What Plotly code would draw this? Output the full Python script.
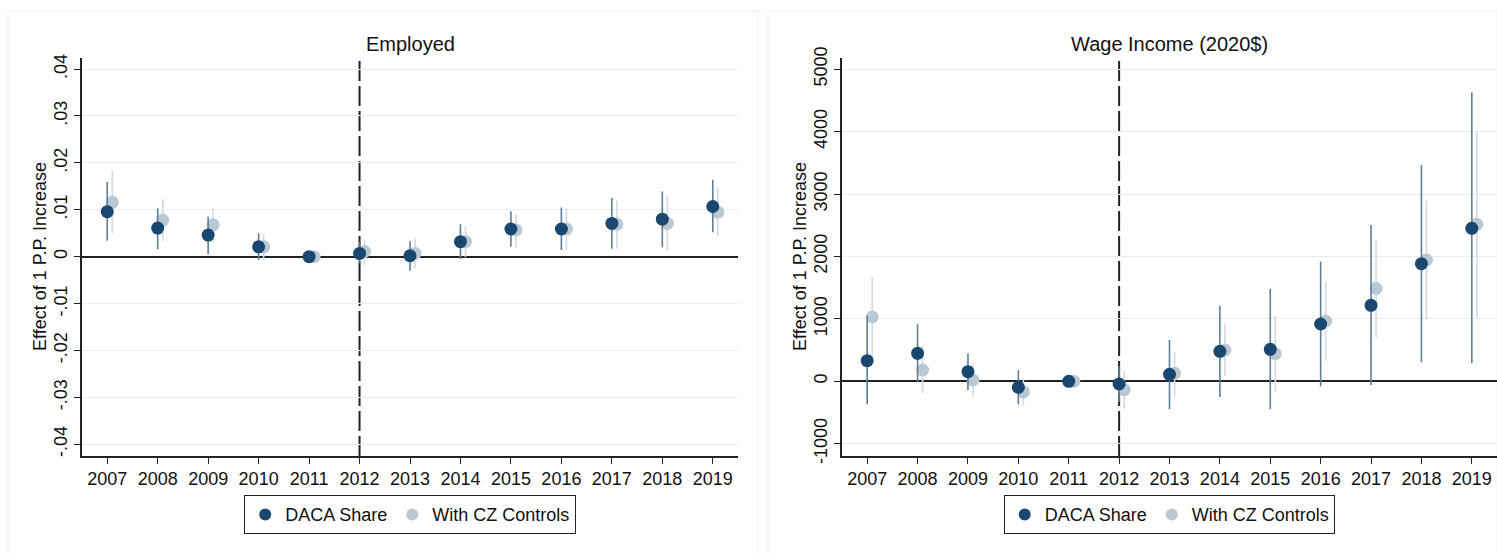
import plotly.graph_objects as go

# ---------------- data ----------------
years = [2007, 2008, 2009, 2010, 2011, 2012, 2013, 2014, 2015, 2016, 2017, 2018, 2019]
year_labels = ["2007", "2008", "2009", "2010", "2011", "2012", "2013", "2014",
               "2015", "2016", "2017", "2018", "2019"]

# Employed: point estimates and 95% CI bounds
emp_daca = [0.0096, 0.0061, 0.0046, 0.0021, 0.0, 0.0007, 0.0002, 0.0032, 0.0059, 0.0059, 0.0071, 0.0080, 0.0107]
emp_daca_hi = [0.0159, 0.0103, 0.0085, 0.0050, 0.0, 0.0032, 0.0033, 0.0069, 0.0097, 0.0105, 0.0125, 0.0139, 0.0164]
emp_daca_lo = [0.0034, 0.0016, 0.0005, -0.0007, 0.0, -0.0014, -0.0030, -0.0005, 0.0021, 0.0014, 0.0017, 0.0020, 0.0052]
emp_cz = [0.0116, 0.0078, 0.0068, 0.0021, 0.0, 0.0011, 0.0007, 0.0032, 0.0057, 0.0059, 0.0069, 0.0071, 0.0095]
emp_cz_hi = [0.0183, 0.0123, 0.0103, 0.0048, 0.0, 0.0036, 0.0038, 0.0064, 0.0091, 0.0102, 0.0119, 0.0129, 0.0147]
emp_cz_lo = [0.0050, 0.0033, 0.0030, -0.0008, 0.0, -0.0018, -0.0026, -0.0001, 0.0019, 0.0014, 0.0017, 0.0013, 0.0044]

# Wage income (2020$): point estimates and 95% CI bounds
wage_daca = [330, 449, 154, -96, 0, -43, 112, 481, 513, 918, 1218, 1885, 2452]
wage_daca_hi = [1047, 914, 449, 181, 0, 240, 662, 1212, 1480, 1917, 2505, 3467, 4626]
wage_daca_lo = [-369, -10, -139, -369, 0, -330, -449, -252, -449, -80, -59, 304, 288]
wage_cz = [1031, 181, 21, -171, 0, -134, 128, 502, 443, 966, 1490, 1944, 2517]
wage_cz_hi = [1667, 566, 298, 48, 0, 165, 470, 914, 1047, 1597, 2265, 2901, 4017]
wage_cz_lo = [395, -192, -246, -391, 0, -433, -236, 90, -166, 325, 699, 994, 1020]

emp_ticks = [-0.04, -0.03, -0.02, -0.01, 0, 0.01, 0.02, 0.03, 0.04]
emp_ticktext = ["-.04", "-.03", "-.02", "-.01", "0", ".01", ".02", ".03", ".04"]
wage_ticks = [-1000, 0, 1000, 2000, 3000, 4000, 5000]
wage_ticktext = ["-1000", "0", "1000", "2000", "3000", "4000", "5000"]

panel_titles = ["Employed", "Wage Income (2020$)"]
y_title = "Effect of 1 P.P. Increase"
series_names = ["DACA Share", "With CZ Controls"]

# ---------------- style ----------------
W, H = 1497, 553
NAVY = "#1a476f"
NAVY_CI = "#5f7e9a"
LIGHT = "#bac8d4"
LIGHT_CI = "#d1dae2"
AXIS = "#222222"
GRID = "#e6eef1"
FONT = "Liberation Sans, Arial, sans-serif"
NARROW = "Liberation Sans Narrow, Arial Narrow, Liberation Sans, sans-serif"
OFFSET = 0.1  # horizontal nudge for the CZ-controls series


def px_x(p):
    return p / W


def px_y(p):
    return (H - p) / H


fig = go.Figure()


def add_panel(idx, daca, daca_hi, daca_lo, cz, cz_hi, cz_lo):
    xa = "x" if idx == 1 else "x2"
    ya = "y" if idx == 1 else "y2"
    leg = "legend" if idx == 1 else "legend2"
    # controls series first so the baseline series sits on top
    fig.add_trace(go.Scatter(
        x=[yr + OFFSET for yr in years], y=cz, mode="markers",
        name=series_names[1], legend=leg, legendrank=2,
        marker=dict(color=LIGHT, size=13),
        error_y=dict(type="data", symmetric=False,
                     array=[h - v for h, v in zip(cz_hi, cz)],
                     arrayminus=[v - l for v, l in zip(cz, cz_lo)],
                     color=LIGHT_CI, thickness=1.6, width=0),
        xaxis=xa, yaxis=ya, hoverinfo="skip"))
    fig.add_trace(go.Scatter(
        x=years, y=daca, mode="markers",
        name=series_names[0], legend=leg, legendrank=1,
        marker=dict(color=NAVY, size=13),
        error_y=dict(type="data", symmetric=False,
                     array=[h - v for h, v in zip(daca_hi, daca)],
                     arrayminus=[v - l for v, l in zip(daca, daca_lo)],
                     color=NAVY_CI, thickness=1.6, width=0),
        xaxis=xa, yaxis=ya, hoverinfo="skip"))


add_panel(1, emp_daca, emp_daca_hi, emp_daca_lo, emp_cz, emp_cz_hi, emp_cz_lo)
add_panel(2, wage_daca, wage_daca_hi, wage_daca_lo, wage_cz, wage_cz_hi, wage_cz_lo)

y_dom = [px_y(456), px_y(58.3)]
x1_dom = [px_x(82), px_x(738)]
x2_dom = [px_x(842), 1.0]

xaxis_common = dict(
    range=[2006.5, 2019.5], tickvals=years, ticktext=year_labels,
    showline=True, linecolor=AXIS, linewidth=1.5,
    ticks="outside", ticklen=6, tickwidth=1.3, tickcolor=AXIS,
    showgrid=False, zeroline=False, automargin=False,
    tickfont=dict(family=NARROW, size=18, color="#111111"),
)
yaxis_common = dict(
    showline=True, linecolor=AXIS, linewidth=1.5,
    ticks="outside", ticklen=6, tickwidth=1.3, tickcolor=AXIS,
    showgrid=True, gridcolor=GRID, gridwidth=1.2,
    zeroline=True, zerolinecolor=AXIS, zerolinewidth=2,
    tickangle=-90, automargin=False,
    tickfont=dict(family=FONT, size=18, color="#111111"),
)

legend_common = dict(
    orientation="h", y=px_y(495), yanchor="top", xanchor="center",
    itemsizing="constant",
    bordercolor=AXIS, borderwidth=1.2, bgcolor="white",
    font=dict(family=FONT, size=18, color="#111111"),
)

fig.update_layout(
    width=W, height=H, autosize=False,
    margin=dict(l=0, r=0, t=0, b=0, pad=0),
    paper_bgcolor="white", plot_bgcolor="white",
    font=dict(family=FONT, size=18, color="#111111"),
    xaxis=dict(domain=x1_dom, anchor="y", **xaxis_common),
    xaxis2=dict(domain=x2_dom, anchor="y2", **xaxis_common),
    yaxis=dict(domain=y_dom, anchor="x", range=[-0.0425, 0.0423],
               tickvals=emp_ticks, ticktext=emp_ticktext, **yaxis_common),
    yaxis2=dict(domain=y_dom, anchor="x2", range=[-1197, 5176],
                tickvals=wage_ticks, ticktext=wage_ticktext, **yaxis_common),
    legend=dict(x=px_x(410), **legend_common),
    legend2=dict(x=px_x(1169.5), **legend_common),
    showlegend=True,
)

# faint outer frames around each panel (left, top and right edges)
for x0, x1 in [(8, 758), (768, W)]:
    fig.add_shape(type="path", xref="paper", yref="paper",
                  path=f"M {px_x(x0)} 0 L {px_x(x0)} {px_y(11)} "
                       f"L {px_x(x1)} {px_y(11)} L {px_x(x1)} 0",
                  line=dict(color="#f0f0f0", width=1), layer="below")

# dashed reference line at the policy year
for xa, ya in [("x", "y"), ("x2", "y2")]:
    fig.add_shape(type="line", xref=xa, yref=ya + " domain",
                  x0=2012, x1=2012, y0=0, y1=1,
                  line=dict(color=AXIS, width=2, dash="20px,5px"),
                  layer="below")

# panel titles and y-axis titles
for cx, title in [((82 + 738) / 2, panel_titles[0]), ((842 + 1497) / 2, panel_titles[1])]:
    fig.add_annotation(x=px_x(cx), y=px_y(44), xref="paper", yref="paper",
                       xanchor="center", yanchor="middle",
                       text=title, showarrow=False,
                       font=dict(family=FONT, size=20, color="#111111"))
for cx in [40, 800]:
    fig.add_annotation(x=px_x(cx), y=px_y(257), xref="paper", yref="paper",
                       xanchor="center", yanchor="middle",
                       text=y_title, textangle=-90, showarrow=False,
                       font=dict(family=FONT, size=18, color="#111111"))

fig.write_html("out.html")
